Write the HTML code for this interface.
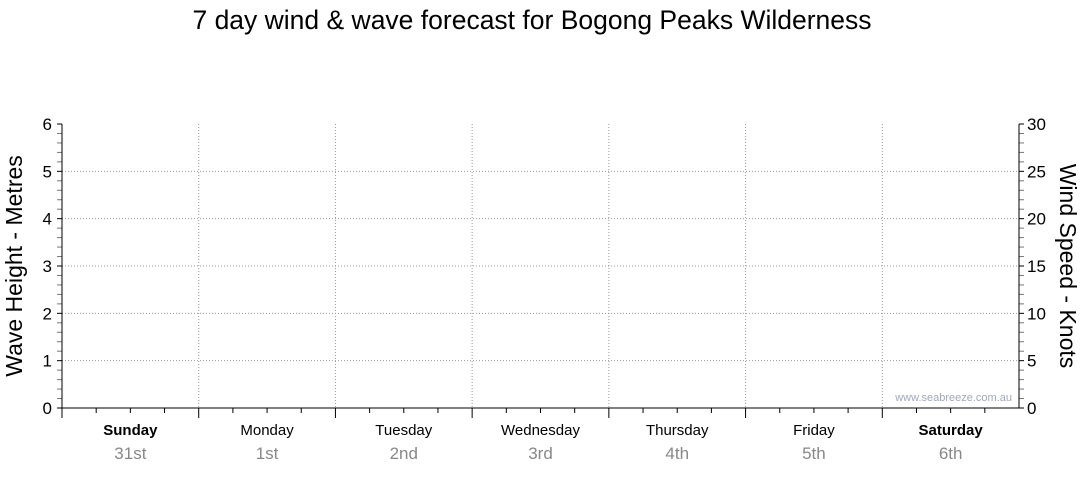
<!DOCTYPE html>
<html><head><meta charset="utf-8"><style>
body{margin:0;background:#fff;width:1080px;height:475px;overflow:hidden}
svg{font-family:"Liberation Sans",Arial,sans-serif}
</style></head><body>
<svg id="chart" width="1080" height="475" xmlns="http://www.w3.org/2000/svg">
<text x="532" y="29" text-anchor="middle" font-size="26.5" fill="#000">7 day wind &amp; wave forecast for Bogong Peaks Wilderness</text>
<g id="grid"></g><g id="axes"></g><g id="labels"></g>
<text transform="translate(22,266) rotate(-90)" text-anchor="middle" font-size="23">Wave Height - Metres</text>
<text transform="translate(1060,266) rotate(90)" text-anchor="middle" font-size="23">Wind Speed - Knots</text>
<text x="1012" y="401" text-anchor="end" font-size="11" fill="#a0a8b8">www.seabreeze.com.au</text>
</svg>
<script>
const days=["Sunday","Monday","Tuesday","Wednesday","Thursday","Friday","Saturday"];
const dates=["31st","1st","2nd","3rd","4th","5th","6th"];
const boldDays=[true,false,false,false,false,false,true];
const waveTicks=[0,1,2,3,4,5,6];
const windTicks=[0,5,10,15,20,25,30];
const waveHeights=[];
const windSpeeds=[];
const NS="http://www.w3.org/2000/svg";
const X0=62,X1=1019,Y0=408,Y1=124;
const dayW=(X1-X0)/days.length;
const yWave=v=>Y0-(v/6)*(Y0-Y1);
const yWind=v=>Y0-(v/30)*(Y0-Y1);
function mk(t,a,p){const e=document.createElementNS(NS,t);for(const k in a)e.setAttribute(k,a[k]);p.appendChild(e);return e;}
const grid=document.getElementById('grid'),axes=document.getElementById('axes'),labels=document.getElementById('labels');
waveTicks.forEach(v=>{
  if(v>0&&v<6){const l=mk('line',{x1:X0,x2:X1,y1:yWave(v),y2:yWave(v),stroke:'#999','stroke-dasharray':'1,2'},grid);
  
  }
  const t=mk('text',{x:X0-10,y:yWave(v)+6,'text-anchor':'end','font-size':17},labels);t.textContent=v;
  
  
  mk('line',{x1:X0-5,x2:X0,y1:yWave(v),y2:yWave(v),stroke:'#000'},axes);
});
for(let i=0;i<30;i++){const y=yWave(i/5);if(i%5)mk('line',{x1:X0-5,x2:X0,y1:y,y2:y,stroke:'#777'},axes);}
windTicks.forEach(v=>{
  const t=mk('text',{x:X1+8,y:yWind(v)+6,'font-size':17},labels);t.textContent=v;
  
  
  mk('line',{x1:X1,x2:X1+5,y1:yWind(v),y2:yWind(v),stroke:'#000'},axes);
});
for(let i=0;i<30;i++){const y=yWind(i);if(i%5)mk('line',{x1:X1,x2:X1+5,y1:y,y2:y,stroke:'#777'},axes);}
days.forEach((d,i)=>{
  const x=X0+i*dayW;
  if(i>0){const g=mk('line',{x1:x,x2:x,y1:Y1,y2:Y0,stroke:'#999','stroke-dasharray':'1,2'},grid);
  
  }
  mk('line',{x1:x,x2:x,y1:Y0,y2:Y0+10,stroke:'#000'},axes);
  for(let q=1;q<4;q++){const xq=x+q*dayW/4;mk('line',{x1:xq,x2:xq,y1:Y0,y2:Y0+5,stroke:'#000'},axes);}
  const t=mk('text',{x:x+dayW/2,y:435,'text-anchor':'middle','font-size':15,'font-weight':boldDays[i]?'bold':'normal'},labels);t.textContent=d;
  
  
  const s=mk('text',{x:x+dayW/2,y:459,'text-anchor':'middle','font-size':17,fill:'#888'},labels);s.textContent=dates[i];
  
  
});
mk('line',{x1:X0,x2:X0,y1:Y1,y2:Y0,stroke:'#000'},axes);
mk('line',{x1:X1,x2:X1,y1:Y1,y2:Y0,stroke:'#000'},axes);
mk('line',{x1:X0,x2:X1,y1:Y0,y2:Y0,stroke:'#000'},axes);
</script>
</body></html>
